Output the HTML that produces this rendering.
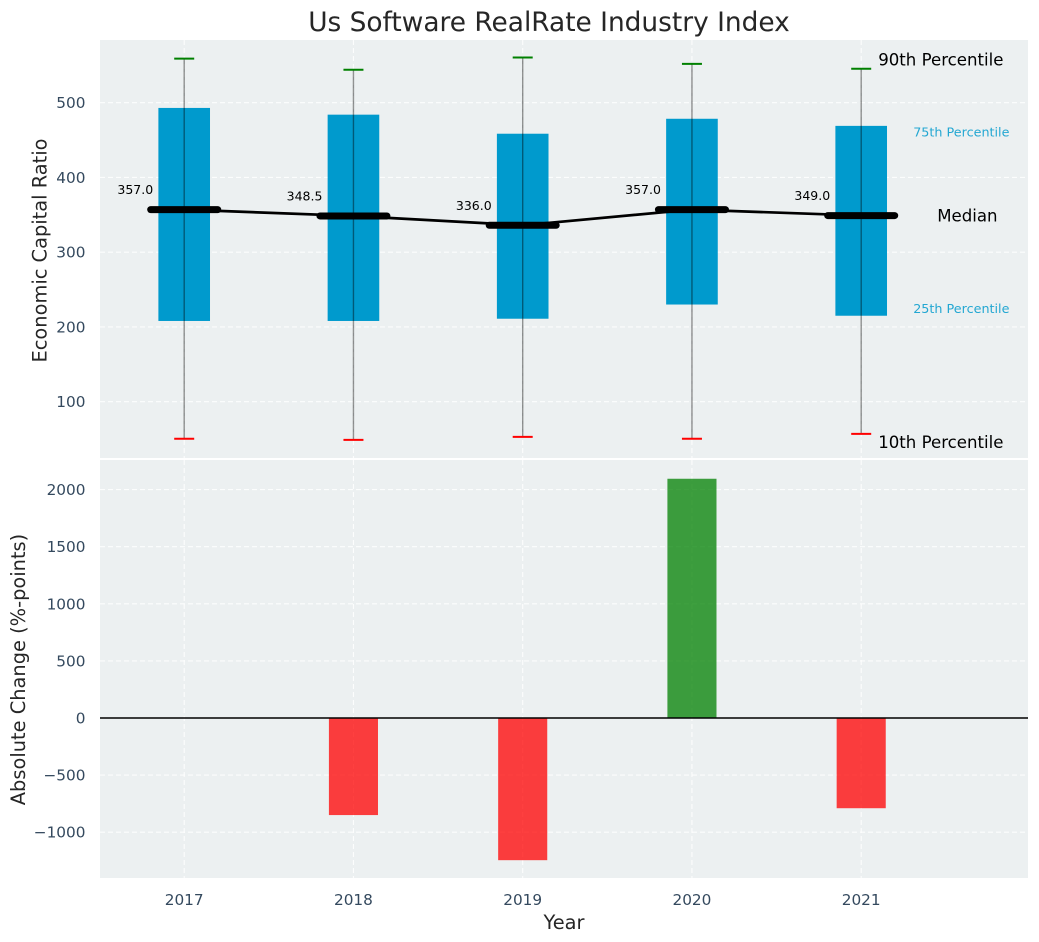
<!DOCTYPE html>
<html lang="en">
<head>
<meta charset="utf-8">
<title>Us Software RealRate Industry Index</title>
<style>
html,body{margin:0;padding:0;background:#fff;}
svg{display:block;font-family:"DejaVu Sans","Liberation Sans",sans-serif;}
</style>
</head>
<body>
<svg id="chart" width="1039" height="942" viewBox="0 0 1039 942" xmlns="http://www.w3.org/2000/svg">
  <rect x="100" y="40" width="928" height="418" fill="#ecf0f1"/>
  <rect x="100" y="460" width="928" height="418" fill="#ecf0f1"/>
  <g id="grid"></g>
  <g id="bars"></g>
  <g id="boxes"></g>
  <g id="whiskers"></g>
  <g id="medians"></g>
  <g id="ticks"></g>
  <line id="zero-line" x1="100" x2="1028" stroke="#000" stroke-width="1.4"/>
  <text x="549" y="31" text-anchor="middle" font-size="26.4px" fill="#262626">Us Software RealRate Industry Index</text>
  <text transform="translate(46.5,250.5) rotate(-90)" text-anchor="middle" font-size="19.4px" fill="#262626">Economic Capital Ratio</text>
  <text transform="translate(25,669.5) rotate(-90)" text-anchor="middle" font-size="19.4px" fill="#262626">Absolute Change (%-points)</text>
  <text x="564" y="929" text-anchor="middle" font-size="19.4px" fill="#262626">Year</text>
  <g id="annotations">
    <text id="a90" font-size="16.6px" fill="#000">90th Percentile</text>
    <text id="a75" font-size="12.75px" fill="#009acd" fill-opacity="0.85">75th Percentile</text>
    <text id="a50" font-size="16.6px" fill="#000">Median</text>
    <text id="a25" font-size="12.75px" fill="#009acd" fill-opacity="0.85">25th Percentile</text>
    <text id="a10" font-size="16.6px" fill="#000">10th Percentile</text>
  </g>
</svg>
<script>
const years = [2017, 2018, 2019, 2020, 2021];
const p90 = [559, 544, 560.5, 552, 545.5];
const p75 = [493, 484, 458.5, 478.5, 469];
const median = [357.0, 348.5, 336.0, 357.0, 349.0];
const p25 = [208, 208, 211, 230, 215];
const p10 = [50.5, 49, 53, 50.5, 57];
const change = [0, -850, -1245, 2095, -790];
const topTicks = [100, 200, 300, 400, 500];
const bottomTicks = [-1000, -500, 0, 500, 1000, 1500, 2000];

const NS = 'http://www.w3.org/2000/svg';
const xPos = v => 184.2 + (v - 2017) * 169.25;
const yTop = v => 102.7 + (500 - v) * 0.7475;
const yBottom = v => 718 - v * 0.1142;
const boxWidth = 0.305 * 169.25;
const barWidth = 0.29 * 169.25;

function make(tag, parentId, props, text) {
  const el = document.createElementNS(NS, tag);
  for (const k in props) el.setAttribute(k, props[k]);
  if (text !== undefined) el.textContent = text;
  document.getElementById(parentId).appendChild(el);
  return el;
}
const gridStyle = {stroke: '#ffffff', 'stroke-opacity': 0.85, 'stroke-width': 1.1, 'stroke-dasharray': '5 3'};

years.forEach(yr => {
  const gridA = make('line', 'grid', Object.assign({x1: xPos(yr), x2: xPos(yr), y1: 40, y2: 458}, gridStyle));
  
  
  const gridB = make('line', 'grid', Object.assign({x1: xPos(yr), x2: xPos(yr), y1: 460, y2: 878}, gridStyle));
  
  
  const label = make('text', 'ticks', {x: xPos(yr), y: 905, 'text-anchor': 'middle', 'font-size': '15.3px', fill: '#34495e'}, String(yr));
  
  
});

topTicks.forEach(t => {
  const g = make('line', 'grid', Object.assign({x1: 100, x2: 1028, y1: yTop(t), y2: yTop(t)}, gridStyle));
  
  
  const label = make('text', 'ticks', {x: 85.5, y: yTop(t) + 5.5, 'text-anchor': 'end', 'font-size': '15.3px', fill: '#34495e'}, String(t));
  
  
});

bottomTicks.forEach(t => {
  const g = make('line', 'grid', Object.assign({x1: 100, x2: 1028, y1: yBottom(t), y2: yBottom(t)}, gridStyle));
  
  
  const label = make('text', 'ticks', {x: 85.5, y: yBottom(t) + 5.5, 'text-anchor': 'end', 'font-size': '15.3px', fill: '#34495e'}, String(t).replace('-', '\u2212'));
  
  
});

change.forEach((v, i) => {
  const top = Math.min(yBottom(v), yBottom(0));
  const bar = make('rect', 'bars', {
    x: xPos(years[i]) - barWidth / 2, y: top, width: barWidth,
    height: Math.abs(yBottom(v) - yBottom(0)),
    fill: v >= 0 ? '#008000' : '#ff0000', 'fill-opacity': 0.75
  });
  
  
});

years.forEach((yr, i) => {
  const box = make('rect', 'boxes', {
    x: xPos(yr) - boxWidth / 2, y: yTop(p75[i]), width: boxWidth,
    height: yTop(p25[i]) - yTop(p75[i]), fill: '#009acd'
  });
  
  

  const stem = make('line', 'whiskers', {
    x1: xPos(yr), x2: xPos(yr), y1: yTop(p90[i]), y2: yTop(p10[i]),
    stroke: '#000', 'stroke-opacity': 0.42, 'stroke-width': 1.4
  });
  
  

  const capHigh = make('line', 'whiskers', {
    x1: xPos(yr) - 10, x2: xPos(yr) + 10, y1: yTop(p90[i]), y2: yTop(p90[i]),
    stroke: '#008000', 'stroke-width': 2
  });
  
  

  const capLow = make('line', 'whiskers', {
    x1: xPos(yr) - 10, x2: xPos(yr) + 10, y1: yTop(p10[i]), y2: yTop(p10[i]),
    stroke: '#ff0000', 'stroke-width': 2
  });
  
  
});

const trend = make('polyline', 'medians', {
  points: years.map((yr, i) => xPos(yr) + ',' + yTop(median[i])).join(' '),
  fill: 'none', stroke: '#000', 'stroke-width': 2.7
});



years.forEach((yr, i) => {
  const seg = make('line', 'medians', {
    x1: xPos(yr) - 33.5, x2: xPos(yr) + 33.5, y1: yTop(median[i]), y2: yTop(median[i]),
    stroke: '#000', 'stroke-width': 7, 'stroke-linecap': 'round'
  });
  
  

  const val = make('text', 'medians', {
    x: xPos(yr) - 31, y: yTop(median[i]) - 15.5, 'text-anchor': 'end',
    'font-size': '12.5px', fill: '#000'
  }, median[i].toFixed(1));
  
  
});

const last = years.length - 1;
const lastX = xPos(years[last]);
function place(id, dx, y) {
  const el = document.getElementById(id);
  el.setAttribute('x', lastX + dx);
  el.setAttribute('y', y);
}
place('a90', 17, yTop(p90[last]) - 3);
place('a75', 52, yTop(p75[last]) + 10.5);
place('a50', 76, yTop(median[last]) + 6);
place('a25', 52, yTop(p25[last]) - 2.5);
place('a10', 17, yTop(p10[last]) + 14);

const zero = document.getElementById('zero-line');
zero.setAttribute('y1', yBottom(0));
zero.setAttribute('y2', yBottom(0));
</script>
</body>
</html>
